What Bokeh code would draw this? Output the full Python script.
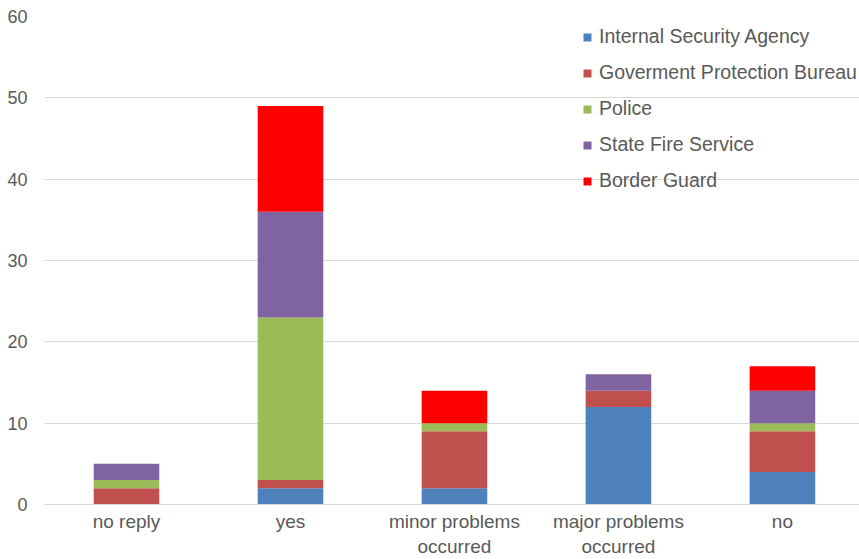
from bokeh.plotting import figure
from bokeh.embed import file_html
from bokeh.resources import INLINE
from bokeh.models import ColumnDataSource, Legend, LegendItem, Range1d, FixedTicker

categories = ["no reply", "yes", "minor problems\noccurred", "major problems\noccurred", "no"]
series = ["Internal Security Agency", "Goverment Protection Bureau", "Police", "State Fire Service", "Border Guard"]
isa = [0, 2, 2, 12, 4]
gpb = [2, 1, 7, 2, 5]
police = [1, 20, 1, 0, 1]
sfs = [2, 13, 0, 2, 4]
bg = [0, 13, 4, 0, 3]
colors = ["#4f81bd", "#c0504d", "#9bbb59", "#8064a2", "#ff0000"]
y_ticks = [0, 10, 20, 30, 40, 50, 60]

keys = ["isa", "gpb", "police", "sfs", "bg"]
xpos = [i + 0.5 for i in range(len(categories))]
data = dict(x=xpos, isa=isa, gpb=gpb, police=police, sfs=sfs, bg=bg)
source = ColumnDataSource(data)

p = figure(x_range=Range1d(0, 4.97), y_range=Range1d(0, 60), width=859, height=559,
           output_backend="svg", toolbar_location=None,
           min_border_left=44, min_border_right=0, min_border_top=16, min_border_bottom=55)

renderers = p.vbar_stack(keys, x="x", width=0.4, color=colors, source=source, line_width=0)

font = "Liberation Sans"
grey = "#595959"

p.outline_line_color = None
p.background_fill_color = "white"
p.border_fill_color = "white"
p.xgrid.grid_line_color = None
p.ygrid.grid_line_color = "#d9d9d9"
p.ygrid.grid_line_width = 1
p.yaxis.ticker = FixedTicker(ticks=y_ticks)
p.yaxis.axis_line_color = None
p.yaxis.major_tick_line_color = None
p.yaxis.minor_tick_line_color = None
p.yaxis.major_tick_out = 0
p.yaxis.major_tick_in = 0
p.yaxis.minor_tick_out = 0
p.yaxis.major_label_text_font = font
p.yaxis.major_label_text_font_size = "18px"
p.yaxis.major_label_text_color = grey
p.yaxis.major_label_standoff = 17
p.xaxis.ticker = FixedTicker(ticks=xpos)
p.xaxis.major_label_overrides = {x: c for x, c in zip(xpos, categories)}
p.xaxis.axis_line_color = "#d9d9d9"
p.xaxis.major_tick_line_color = None
p.xaxis.minor_tick_line_color = None
p.xaxis.major_tick_out = 0
p.xaxis.major_tick_in = 0
p.xaxis.minor_tick_out = 0
p.xaxis.major_label_text_font = font
p.xaxis.major_label_text_font_size = "19px"
p.xaxis.major_label_text_color = grey
p.xaxis.major_label_standoff = 6

items = [LegendItem(label=s, renderers=[r]) for s, r in zip(series, renderers)]
legend = Legend(items=items, location=(538, 312), orientation="vertical")
legend.background_fill_alpha = 0
legend.border_line_color = None
legend.label_text_font = font
legend.label_text_font_size = "19.5px"
legend.label_text_color = grey
legend.glyph_width = 10
legend.glyph_height = 10
legend.label_height = 20
legend.spacing = 13
legend.label_standoff = 7
legend.padding = 0
legend.margin = 0
p.add_layout(legend, "center")

open("out.html", "w").write(file_html(p, INLINE))
